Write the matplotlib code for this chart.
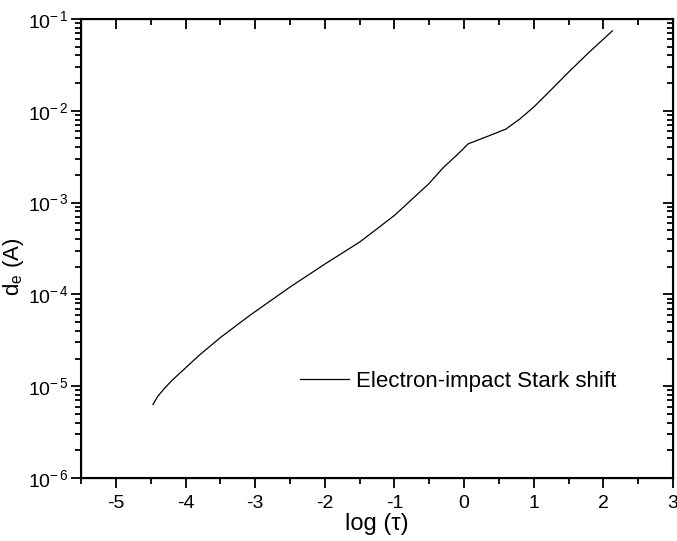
import numpy as np
import matplotlib.pyplot as plt
from matplotlib.ticker import MultipleLocator, LogLocator, FixedLocator, NullFormatter

plt.rcParams['font.family'] = ['Liberation Sans', 'DejaVu Sans']
plt.rcParams['mathtext.fontset'] = 'custom'
plt.rcParams['mathtext.rm'] = 'Liberation Sans'
plt.rcParams['mathtext.it'] = 'Liberation Sans'
plt.rcParams['axes.unicode_minus'] = False

# curve: log(tau) vs log10(d_e)
log_tau = [-4.47, -4.40, -4.30, -4.20, -4.10, -4.00, -3.80, -3.50, -3.08,
           -2.50, -2.00, -1.50, -1.00, -0.70, -0.50, -0.30, -0.10, 0.06,
           0.30, 0.60, 0.80, 1.00, 1.20, 1.50, 1.80, 2.13]
log_de = [-5.20, -5.11, -5.02, -4.94, -4.87, -4.80, -4.66, -4.47, -4.23,
          -3.92, -3.67, -3.43, -3.14, -2.93, -2.79, -2.62, -2.48, -2.36,
          -2.29, -2.20, -2.09, -1.96, -1.81, -1.58, -1.36, -1.13]
series_label = "Electron-impact Stark shift"

x_ticks = [-5, -4, -3, -2, -1, 0, 1, 2, 3]
y_ticks = [1e-6, 1e-5, 1e-4, 1e-3, 1e-2, 1e-1]
y_ticklabels = [r'$\mathregular{10^{-\,6}}$', r'$\mathregular{10^{-\,5}}$',
                r'$\mathregular{10^{-\,4}}$', r'$\mathregular{10^{-\,3}}$',
                r'$\mathregular{10^{-\,2}}$', r'$\mathregular{10^{-\,1}}$']

fig = plt.figure(figsize=(6.77, 5.41), dpi=100)
ax = fig.add_axes([0.12, 0.1165, 0.874, 0.8485])

ax.plot(log_tau, 10 ** np.array(log_de), color='black', lw=0.9, label=series_label)
ax.set_yscale('log')
ax.set_xlim(-5.5, 3)
ax.set_ylim(1e-6, 1e-1)

ax.xaxis.set_major_locator(FixedLocator(x_ticks))
ax.xaxis.set_minor_locator(MultipleLocator(0.5))
ax.set_yticks(y_ticks)
ax.set_yticklabels(y_ticklabels)
ax.yaxis.set_minor_locator(LogLocator(base=10, subs=np.arange(2, 10)))
ax.yaxis.set_minor_formatter(NullFormatter())

ax.tick_params(which='major', direction='out', length=7, width=1.3, labelsize=14)
ax.tick_params(which='minor', direction='out', length=4, width=1.3)
ax.tick_params(axis='x', pad=5)
ax.tick_params(axis='y', pad=2)
for s in ax.spines.values():
    s.set_linewidth(1.5)

# top and right ticks point inward
axt = ax.twiny()
axt.set_xlim(ax.get_xlim())
axt.xaxis.set_major_locator(FixedLocator(x_ticks))
axt.xaxis.set_minor_locator(MultipleLocator(0.5))
axt.tick_params(which='major', direction='in', length=7, width=1.3, labeltop=False)
axt.tick_params(which='minor', direction='in', length=4, width=1.3)

axr = ax.twinx()
axr.set_yscale('log')
axr.set_ylim(ax.get_ylim())
axr.set_yticks(y_ticks)
axr.yaxis.set_minor_locator(LogLocator(base=10, subs=np.arange(2, 10)))
axr.yaxis.set_minor_formatter(NullFormatter())
axr.tick_params(which='major', direction='in', length=7, width=1.3, labelright=False)
axr.tick_params(which='minor', direction='in', length=4, width=1.3)

ax.set_xlabel('log (τ)', fontsize=17, labelpad=1)
ax.set_ylabel(r'$\mathregular{d_e}$ (A)', fontsize=16)
ax.yaxis.set_label_coords(-0.093, 0.46)

ax.legend(loc='center left', bbox_to_anchor=(0.37, 0.211), frameon=False,
          fontsize=16, handlelength=2.2, handletextpad=0.3, borderpad=0,
          borderaxespad=0)

fig.savefig('out.png', dpi=100)
